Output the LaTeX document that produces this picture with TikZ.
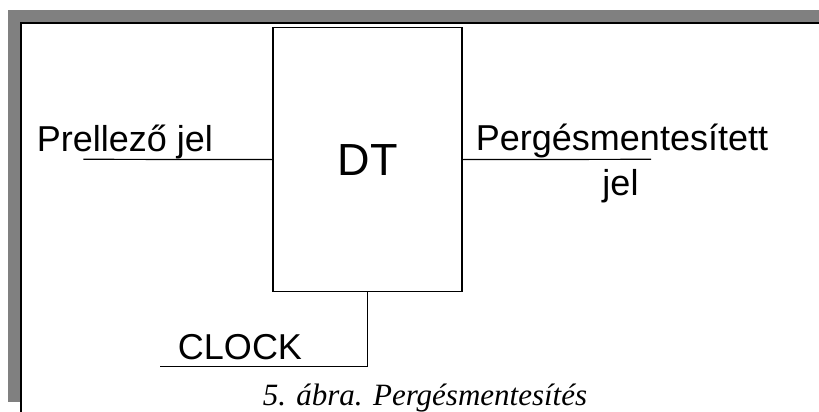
\documentclass[tikz,border=0pt]{standalone}
\usepackage{fontspec}
\setmainfont{Liberation Sans}
\newfontfamily\capfont{Liberation Serif}
\definecolor{bandgray}{HTML}{808080}
\tikzset{
  lbl/.style={inner sep=0pt, anchor=base, font=\fontsize{36}{43}\selectfont},
  wire/.style={line width=1.2pt, black},
  blockbox/.style={draw, line width=1.2pt, inner sep=0pt, minimum width=189pt, minimum height=264.5pt, font=\fontsize{45}{54}\selectfont},
}
\begin{document}
\begin{tikzpicture}[x=1pt,y=-1pt]
\useasboundingbox (0,0) rectangle (819,412);
% page frame
\fill[bandgray] (8,10) rectangle (819,23);
\fill[bandgray] (8,10) rectangle (21,402);
\draw[line width=1.3pt] (21,412) -- (21,23) -- (819,23);
% block
\node[blockbox] (dt) at (367.5,159.6) {DT};
% connectors
\coordinate (inL) at (83.3,159.3);
\coordinate (outR) at (651,159.3);
\coordinate (clkEnd) at (160,366.7);
\draw[wire] (inL) -- (dt.west);
\draw[wire] (dt.east) -- (outR);
\draw[wire] (dt.south) |- (clkEnd);
% labels
\node[lbl] (inlbl) at (125,151) {Prellező jel};
\node[lbl] (outlbl1) at (622,150) {Pergésmentesített};
\node[lbl] (outlbl2) at (620.5,195.5) {jel};
\node[lbl] (clklbl) at (240,359.3) {CLOCK};
\node[inner sep=0pt, anchor=base, font=\capfont\itshape\fontsize{31}{37}\selectfont] (cap) at (425,405) {5. ábra. Pergésmentesítés};
\end{tikzpicture}
\end{document}
